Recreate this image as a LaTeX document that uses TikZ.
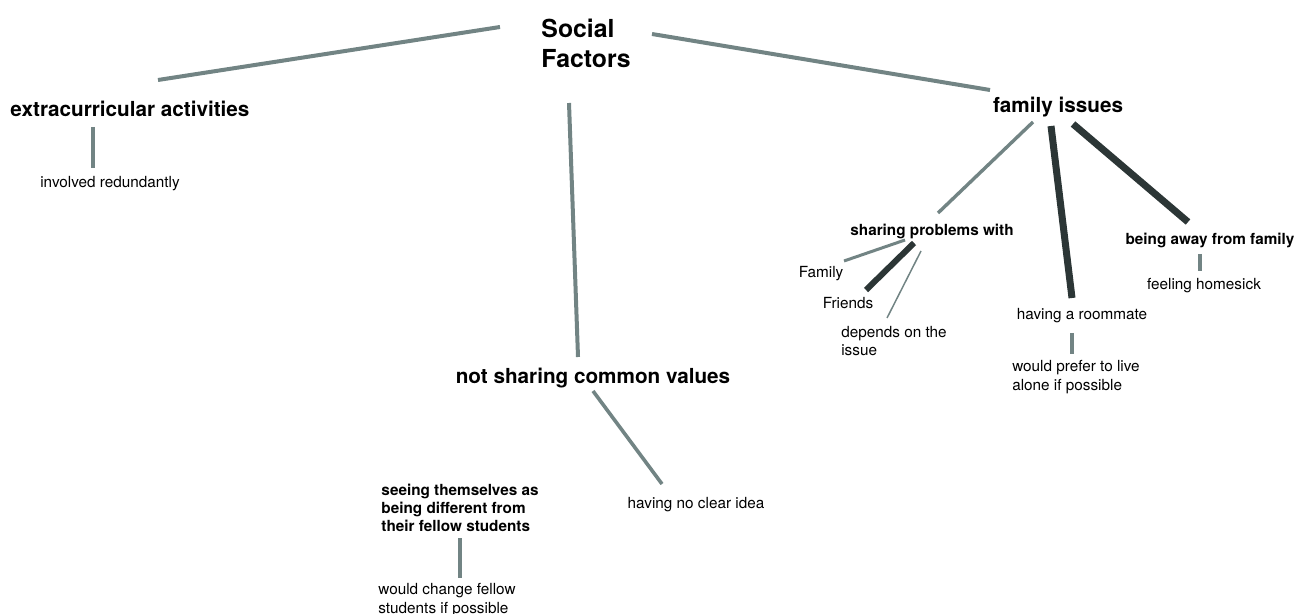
\documentclass[tikz,border=0pt]{standalone}
\usepackage{fontspec}
\setmainfont{TeX Gyre Heros}
\definecolor{linkgray}{HTML}{728484}
\definecolor{linkdark}{HTML}{2C3636}

\begin{document}
\begin{tikzpicture}[x=0.5pt,y=-0.5pt,
  topic/.style={inner sep=0pt,align=left,font=\fontsize{12.4}{15}\selectfont\bfseries},
  issue/.style={inner sep=0pt,font=\fontsize{10.35}{12}\selectfont\bfseries},
  sub/.style={inner sep=0pt,align=left,font=\fontsize{7.65}{9.1}\selectfont\bfseries},
  leaf/.style={inner sep=0pt,align=left,font=\fontsize{7.65}{9.2}\selectfont},
  link/.style={draw=linkgray,line width=#1},link/.default=1.8pt,
  strong/.style={draw=linkdark,line width=#1},strong/.default=3.5pt]

  \useasboundingbox (0,0) rectangle (1305,614);

  \node[topic] (root) at (586,43) {Social\\Factors};

  \node[issue] (extra) at (130,109) {extracurricular activities};
  \node[issue] (values) at (593,378) {not sharing common values};
  \node[issue] (family) at (1058,107) {family issues};

  \node[leaf] (involved) at (110,184) {involved redundantly};

  \node[sub] (seeing) at (460,508) {seeing themselves as\\being different from\\their fellow students};
  \node[leaf] (change) at (447,600) {would change fellow\\students if possible};
  \node[leaf] (noidea) at (696,505) {having no clear idea};

  \node[sub] (sharing) at (932,231) {sharing problems with};
  \node[leaf] (fam) at (821,274) {Family};
  \node[leaf] (friends) at (848,303) {Friends};
  \node[leaf] (depends) at (894,341) {depends on the\\issue};
  \node[leaf] (roommate) at (1082,316) {having a roommate};
  \node[leaf] (alone) at (1076,377) {would prefer to live\\alone if possible};
  \node[sub] (away) at (1210,240) {being away from family};
  \node[leaf] (homesick) at (1204,286) {feeling homesick};

  \draw[link=2pt] ([shift={(-86,-16)}]root.center) -- ([shift={(28,-29)}]extra.center);
  \draw[link=2pt] ([shift={(66,-9)}]root.center) -- ([shift={(-68,-17)}]family.center);
  \draw[link=2pt] ([shift={(-17,60)}]root.center) -- ([shift={(-15,-21)}]values.center);

  \draw[link] ([shift={(-37,18)}]extra.center) -- ([shift={(-17,-16)}]involved.center);
  \draw[link] ([shift={(0,13)}]values.center) -- ([shift={(-34,-21)}]noidea.center);
  \draw[link] ([shift={(0,30)}]seeing.center) -- ([shift={(13,-22)}]change.center);

  \draw[link=1.7pt] ([shift={(-25,15)}]family.center) -- ([shift={(6,-18)}]sharing.center);
  \draw[strong] ([shift={(-7,19)}]family.center) -- ([shift={(-10,-18)}]roommate.center);
  \draw[strong] ([shift={(15,17)}]family.center) -- ([shift={(-22,-18)}]away.center);

  \draw[link=1.5pt] ([shift={(-27,9)}]sharing.center) -- ([shift={(23,-13)}]fam.center);
  \draw[strong=3pt] ([shift={(-18,12)}]sharing.center) -- ([shift={(18,-13)}]friends.center);
  \draw[link=0.75pt] ([shift={(-11,20)}]sharing.center) -- ([shift={(-7,-23)}]depends.center);

  \draw[link] ([shift={(-10,17)}]roommate.center) -- ([shift={(-4,-23)}]alone.center);
  \draw[link] ([shift={(-10,14)}]away.center) -- ([shift={(-4,-15)}]homesick.center);

\end{tikzpicture}
\end{document}
